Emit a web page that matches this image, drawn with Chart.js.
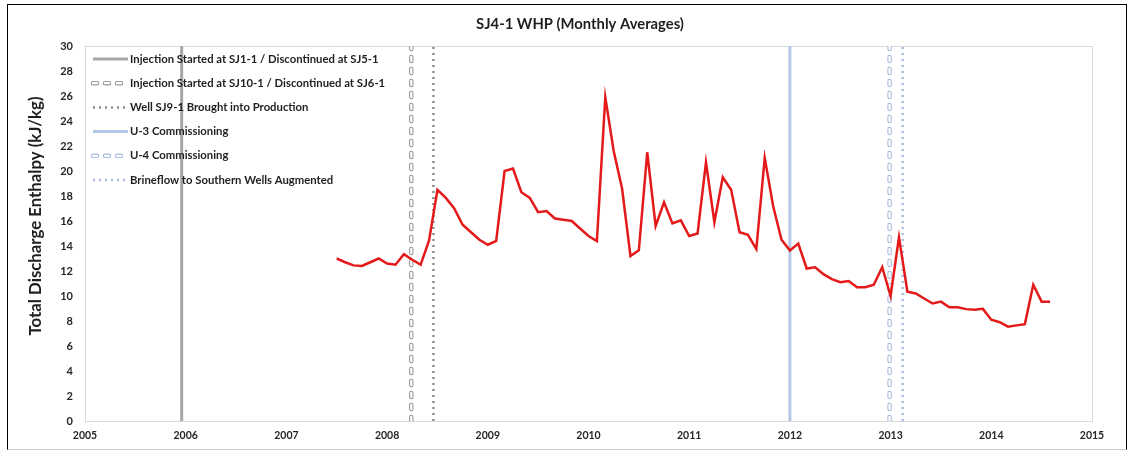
<!DOCTYPE html>
<html>
<head>
<meta charset="utf-8">
<script src="https://cdn.jsdelivr.net/npm/chart.js@4.4.1/dist/chart.umd.min.js"></script>
<style>
    body { margin: 0; background: #fff; }
    #frame { position: absolute; left: 7px; top: 4px; width: 1118px; height: 444px; border: 1px solid #000; border-bottom-color: #c8c8c8; }
    #myCanvas { position: absolute; left: 0; top: 0; }
</style>
</head>
<body>
<div id="frame"></div>
<canvas id="myCanvas" width="1134" height="457"></canvas>
<script>
// monthly averages, first month is July 2007
let startYear = 2007;
let startMonth = 7;
let enthalpy = [
    13.0, 12.7, 12.45, 12.4, 12.7, 13.0, 12.6, 12.5, 13.35, 12.9, 12.5, 14.45,
    18.5, 17.85, 17.0, 15.7, 15.1, 14.5, 14.1, 14.4, 20.0, 20.2, 18.3, 17.85,
    16.7, 16.8, 16.2, 16.1, 16.0, 15.4, 14.8, 14.4, 25.9, 21.6, 18.6, 13.2,
    13.65, 21.5, 15.6, 17.5, 15.8, 16.05, 14.8, 15.0, 20.7, 15.9, 19.5, 18.5,
    15.1, 14.9, 13.75, 21.05, 17.2, 14.5, 13.65, 14.2, 12.2, 12.3, 11.75, 11.35,
    11.1, 11.2, 10.7, 10.7, 10.9, 12.3, 10.0, 14.7, 10.35, 10.2, 9.8, 9.4,
    9.55, 9.1, 9.1, 8.95, 8.9, 8.97, 8.1, 7.9, 7.55, 7.65, 7.75, 10.9,
    9.55, 9.55
];

// events (decimal years) shown as vertical lines
let eventDates = [2005.96, 2008.24, 2008.46, 2012.0, 2012.99, 2013.12];
let eventLabels = [
    'Injection Started at SJ1-1 / Discontinued at SJ5-1',
    'Injection Started at SJ10-1 / Discontinued at SJ6-1',
    'Well SJ9-1 Brought into Production',
    'U-3 Commissioning',
    'U-4 Commissioning',
    'Brineflow to Southern Wells Augmented'
];

let yearTicks = [2005, 2015];
let enthalpyRange = [0, 30];

let titleText = 'SJ4-1 WHP (Monthly Averages)';
let yTitleText = 'Total Discharge Enthalpy (kJ/kg)';

let grey = '#a6a6a6';
let blue = '#b4c7e7';
let eventStyles = [
    { color: grey, width: 3, dash: [], cap: 'butt' },
    { color: '#9a9a9a', width: 4.5, dash: [4, 8], cap: 'round', hollow: true },
    { color: '#8c8c8c', width: 2.5, dash: [2, 4], cap: 'butt' },
    { color: blue, width: 3, dash: [], cap: 'butt' },
    { color: '#a9bde0', width: 4.5, dash: [4, 8], cap: 'round', hollow: true },
    { color: '#a9bde0', width: 2.5, dash: [2, 4], cap: 'butt' }
];

let fontName = 'Lato';
let textColor = '#1f1f1f';

let points = enthalpy.map((v, i) => ({ x: startYear + (startMonth - 1 + i) / 12, y: v }));

let datasets = [{
    label: 'WHP',
    data: points,
    borderColor: '#e41a1a',
    borderWidth: 2.5,
    pointRadius: 0,
    tension: 0
}];

eventDates.forEach((d, i) => {
    let s = eventStyles[i];
    let line = [{ x: d, y: enthalpyRange[0] }, { x: d, y: enthalpyRange[1] }];
    if (s.hollow) {
        // white core on top of the outline gives the hollow dash look
        datasets.push({
            data: line, borderColor: '#ffffff', borderWidth: s.width - 2.2,
            borderDash: s.dash, borderCapStyle: s.cap, pointRadius: 0
        });
    }
    datasets.push({
        data: line, borderColor: s.color, borderWidth: s.width,
        borderDash: s.dash, borderCapStyle: s.cap, pointRadius: 0
    });
});

function strokeSample(ctx, s, x0, y, x1) {
    ctx.save();
    ctx.lineCap = s.cap;
    ctx.setLineDash(s.dash);
    ctx.strokeStyle = s.color;
    ctx.lineWidth = s.width;
    ctx.beginPath();
    ctx.moveTo(x0, y);
    ctx.lineTo(x1, y);
    ctx.stroke();
    if (s.hollow) {
        ctx.strokeStyle = '#ffffff';
        ctx.lineWidth = s.width - 2.2;
        ctx.beginPath();
        ctx.moveTo(x0, y);
        ctx.lineTo(x1, y);
        ctx.stroke();
    }
    ctx.restore();
}

let decor = {
    id: 'decor',
    beforeDatasetsDraw(chart) {
        let ctx = chart.ctx;
        let a = chart.chartArea;
        ctx.save();
        ctx.strokeStyle = '#d9d9d9';
        ctx.lineWidth = 1;
        ctx.strokeRect(Math.round(a.left) + 0.5, Math.round(a.top) + 0.5, Math.round(a.width), Math.round(a.height));
        ctx.restore();
    },
    afterDatasetsDraw(chart) {
        let ctx = chart.ctx;
        let a = chart.chartArea;
        ctx.save();
        // legend inside the plot, top left
        ctx.font = 'bold 11.3px ' + fontName;
        ctx.textBaseline = 'middle';
        ctx.textAlign = 'left';
        eventLabels.forEach((label, i) => {
            let y = a.top + 13 + i * 24.2;
            let x0 = a.left + 8;
            let x1 = a.left + 43;
            strokeSample(ctx, eventStyles[i], x0, y, x1);
            ctx.fillStyle = textColor;
            ctx.fillText(label, x1 + 2, y);
        });

        // chart title
        ctx.font = 'bold 14.8px ' + fontName;
        ctx.textAlign = 'center';
        ctx.fillStyle = textColor;
        ctx.fillText(titleText, 580, 24);

        // y axis title
        ctx.translate(36, 216);
        ctx.rotate(-Math.PI / 2);
        ctx.font = 'bold 16.8px ' + fontName;
        ctx.fillText(yTitleText, 0, 0);
        ctx.restore();
    }
};

let canvas = document.getElementById('myCanvas');
let ctx = canvas.getContext('2d');

new Chart(ctx, {
    type: 'line',
    data: { datasets: datasets },
    plugins: [decor],
    options: {
        responsive: false,
        animation: false,
        devicePixelRatio: 1,
        layout: {
            padding: { left: 0, right: 42, top: 46, bottom: 10 }
        },
        plugins: {
            legend: { display: false },
            title: { display: false },
            tooltip: { enabled: false }
        },
        scales: {
            x: {
                type: 'linear',
                min: yearTicks[0],
                max: yearTicks[1],
                grid: { display: false, drawTicks: false },
                border: { display: false },
                ticks: {
                    stepSize: 1,
                    padding: 8,
                    maxRotation: 0,
                    color: '#262626',
                    font: { family: fontName, size: 10.5, weight: 'bold' },
                    callback: v => String(v)
                },
                afterFit: scale => { scale.height = 26; }
            },
            y: {
                min: enthalpyRange[0],
                max: enthalpyRange[1],
                grid: { display: false, drawTicks: false },
                border: { display: false },
                ticks: {
                    stepSize: 2,
                    padding: 12,
                    color: '#262626',
                    font: { family: fontName, size: 11, weight: 'bold' }
                },
                afterFit: scale => { scale.width = 85; }
            }
        }
    }
});
</script>
</body>
</html>
